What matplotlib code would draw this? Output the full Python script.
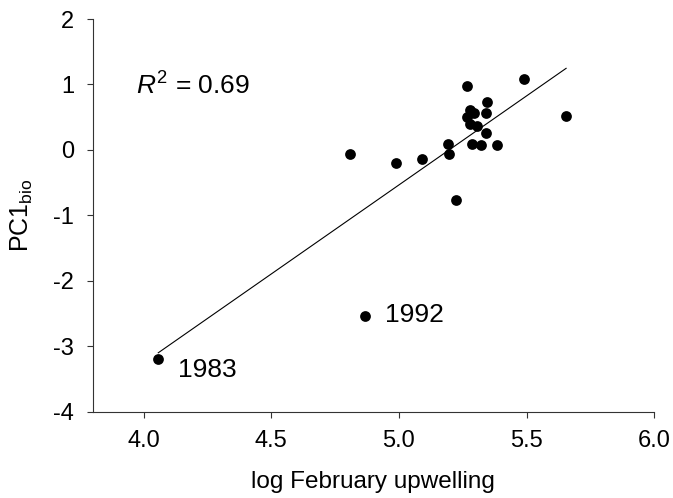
import numpy as np
import matplotlib
matplotlib.use("Agg")
import matplotlib.pyplot as plt

plt.rcParams['font.family'] = ['Liberation Sans', 'DejaVu Sans']
plt.rcParams['mathtext.fontset'] = 'custom'
plt.rcParams['mathtext.rm'] = 'Liberation Sans'
plt.rcParams['mathtext.it'] = 'Liberation Sans:italic'

upwelling = [4.057, 4.866, 4.809, 4.989, 5.092, 5.191, 5.196, 5.225, 5.267, 5.267,
             5.280, 5.294, 5.280, 5.306, 5.285, 5.320, 5.346, 5.343, 5.341, 5.385,
             5.489, 5.655]
pc1bio = [-3.20, -2.54, -0.07, -0.20, -0.135, 0.083, -0.06, -0.77, 0.97, 0.50,
          0.61, 0.57, 0.40, 0.37, 0.083, 0.07, 0.73, 0.57, 0.256, 0.07,
          1.085, 0.525]
fit_slope = 2.72
fit_intercept = -14.135
r2_text = r'$R^2$ = 0.69'
year_labels = ['1983', '1992']
year_label_pos = [(4.135, -3.37), (4.947, -2.52)]

fig = plt.figure(figsize=(6.73, 4.98), dpi=100)
ax = fig.add_axes([0.1377, 0.1733, 0.8343, 0.7885])

ax.scatter(upwelling, pc1bio, s=60, color='black', zorder=3, linewidths=0)
xs = np.array([min(upwelling), max(upwelling)])
ax.plot(xs, fit_intercept + fit_slope * xs, color='black', lw=0.8)

for lab, (lx, ly) in zip(year_labels, year_label_pos):
    ax.text(lx, ly, lab, fontsize=19, va='center', ha='left')
ax.text(3.97, 0.98, r2_text, fontsize=19, va='center', ha='left')

ax.set_xlim(3.8, 6.0)
ax.set_ylim(-4, 2)
ax.set_xticks([4.0, 4.5, 5.0, 5.5, 6.0])
ax.set_xticklabels(['4.0', '4.5', '5.0', '5.5', '6.0'])
ax.set_yticks([-4, -3, -2, -1, 0, 1, 2])
ax.set_yticklabels(['-4', '-3', '-2', '-1', '0', '1', '2'])
ax.tick_params(direction='out', labelsize=17, length=4.2, width=0.8, pad=9,
               color='#333333')
for s in ['top', 'right']:
    ax.spines[s].set_visible(False)
for s in ['left', 'bottom']:
    ax.spines[s].set_linewidth(0.8)
    ax.spines[s].set_color('#333333')

ax.set_xlabel('log February upwelling', fontsize=17.5, labelpad=14)
ax.set_ylabel(r'PC1$_{\mathrm{bio}}$', fontsize=18, labelpad=13)

fig.savefig('out.png', dpi=100)
